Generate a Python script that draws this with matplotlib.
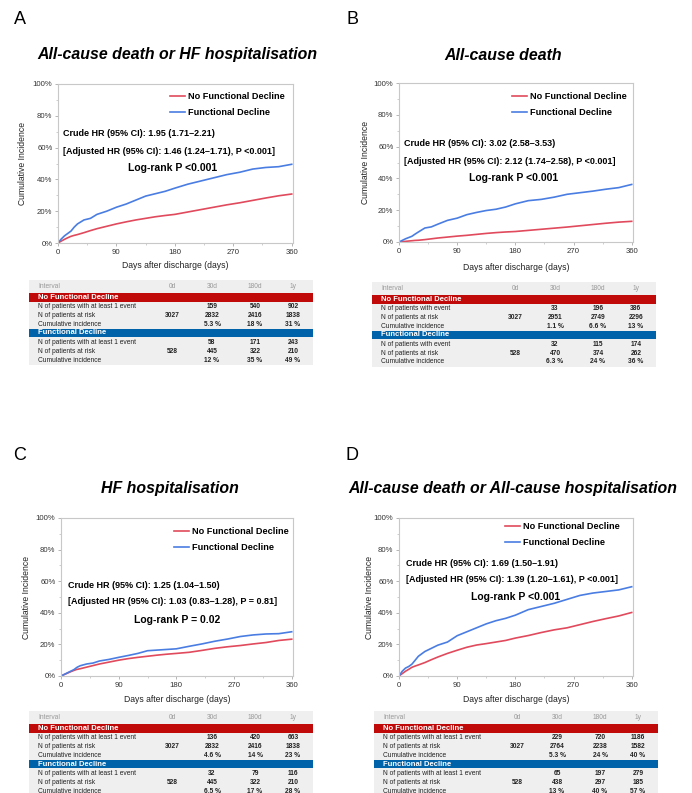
import matplotlib.pyplot as plt
from matplotlib.patches import Rectangle

plt.rcParams['font.family'] = ['Liberation Sans', 'DejaVu Sans']

W, H = 692, 793

days = [0, 5, 10, 15, 20, 25, 30, 40, 50, 60, 75, 90, 105, 120, 135, 150,
        165, 180, 200, 220, 240, 260, 280, 300, 320, 340, 360]

# cumulative incidence (%) - NFD = no functional decline, FD = functional decline
a_nfd = [0, 1.2, 2.3, 3.3, 4.2, 4.8, 5.3, 6.5, 7.8, 9, 10.5, 12, 13.3, 14.5, 15.5, 16.5,
         17.3, 18, 19.5, 21, 22.5, 24, 25.3, 26.8, 28.3, 29.7, 30.8]
a_fd = [0, 2.5, 4.5, 6, 7.5, 10, 12, 14.5, 15.5, 18, 20, 22.5, 24.5, 27, 29.5, 31,
        32.5, 34.5, 37, 39, 41, 43, 44.5, 46.5, 47.5, 48, 49.5]
b_nfd = [0, 0.2, 0.4, 0.6, 0.8, 1.0, 1.1, 1.5, 2.0, 2.5, 3.1, 3.7, 4.2, 4.8, 5.4, 5.9,
         6.3, 6.6, 7.3, 8.0, 8.7, 9.4, 10.2, 11.0, 11.8, 12.5, 13.0]
b_fd = [0, 1, 2, 2.8, 3.6, 5, 6.3, 8.8, 9.5, 11.2, 13.6, 15, 17.2, 18.6, 19.8, 20.6,
        22, 24, 26, 26.8, 28.2, 30, 31, 32, 33.2, 34.2, 36.2]
c_nfd = [0, 0.9, 1.8, 2.7, 3.5, 4.2, 4.6, 5.6, 6.6, 7.6, 8.8, 10, 11, 11.8, 12.5, 13.2,
         13.8, 14.3, 15, 16.2, 17.5, 18.5, 19.3, 20.3, 21.2, 22.5, 23.3]
c_fd = [0, 1, 2, 3, 4, 5.5, 6.5, 7.6, 8.2, 9.5, 10.5, 11.8, 13, 14.3, 16, 16.4,
        16.8, 17.2, 18.8, 20.3, 22, 23.4, 25, 26, 26.6, 26.8, 28]
d_nfd = [0, 1.5, 3, 4.2, 5.5, 6.3, 7, 8.5, 10.3, 12, 14.3, 16.3, 18.2, 19.6, 20.5, 21.5,
         22.5, 24, 25.6, 27.5, 29.2, 30.5, 32.5, 34.5, 36.3, 38, 40.2]
d_fd = [0, 3, 5, 6, 7.5, 10, 12.5, 15.5, 17.5, 19.5, 21.5, 25.5, 28, 30.5, 33, 35,
        36.5, 38.5, 42, 44, 46, 48.5, 51, 52.5, 53.5, 54.5, 56.5]

x_ticks = [0, 90, 180, 270, 360]
y_ticks = [0, 20, 40, 60, 80, 100]

titles = ['All-cause death or HF hospitalisation', 'All-cause death',
          'HF hospitalisation', 'All-cause death or All-cause hospitalisation']
crude = ['Crude HR (95% CI): 1.95 (1.71\u20132.21)',
         'Crude HR (95% CI): 3.02 (2.58\u20133.53)',
         'Crude HR (95% CI): 1.25 (1.04\u20131.50)',
         'Crude HR (95% CI): 1.69 (1.50\u20131.91)']
adjusted = ['[Adjusted HR (95% CI): 1.46 (1.24\u20131.71), P <0.001]',
            '[Adjusted HR (95% CI): 2.12 (1.74\u20132.58), P <0.001]',
            '[Adjusted HR (95% CI): 1.03 (0.83\u20131.28), P = 0.81]',
            '[Adjusted HR (95% CI): 1.39 (1.20\u20131.61), P <0.001]']
logrank = ['Log-rank P <0.001', 'Log-rank P <0.001', 'Log-rank P = 0.02', 'Log-rank P <0.001']

intervals = ['Interval', '0d', '30d', '180d', '1y']
event_labels = ['N of patients with at least 1 event', 'N of patients with event',
                'N of patients with at least 1 event', 'N of patients with at least 1 event']
nfd_events = [['', '159', '540', '902'], ['', '33', '196', '386'],
              ['', '136', '420', '663'], ['', '229', '720', '1186']]
nfd_risk = [['3027', '2832', '2416', '1838'], ['3027', '2951', '2749', '2296'],
            ['3027', '2832', '2416', '1838'], ['3027', '2764', '2238', '1582']]
nfd_ci = [['', '5.3 %', '18 %', '31 %'], ['', '1.1 %', '6.6 %', '13 %'],
          ['', '4.6 %', '14 %', '23 %'], ['', '5.3 %', '24 %', '40 %']]
fd_events = [['', '58', '171', '243'], ['', '32', '115', '174'],
             ['', '32', '79', '116'], ['', '65', '197', '279']]
fd_risk = [['528', '445', '322', '210'], ['528', '470', '374', '262'],
           ['528', '445', '322', '210'], ['528', '438', '297', '185']]
fd_ci = [['', '12 %', '35 %', '49 %'], ['', '6.3 %', '24 %', '36 %'],
         ['', '6.5 %', '17 %', '28 %'], ['', '13 %', '40 %', '57 %']]

RED = '#e04a5c'
BLUE = '#4a7de2'
BAND_RED = '#c00a0a'
BAND_BLUE = '#0062a8'

fig = plt.figure(figsize=(W / 100, H / 100), dpi=100)


def fx(px):
    return px / W


def fy(py):
    return 1 - py / H


# layout in pixels
panels = [
    dict(letter='A', lx=20, ly=20, box=(58, 84, 293, 243), tx=177, ty=55,
         ylx=23, xly=266, leg=(170, 92), crude=(63, 134), adj=151, lr=(173, 168),
         table=(29, 280)),
    dict(letter='B', lx=352, ly=20, box=(399, 83, 633, 242), tx=503, ty=55,
         ylx=366, xly=267, leg=(512, 92), crude=(404, 144), adj=161, lr=(514, 178),
         table=(372, 282)),
    dict(letter='C', lx=20, ly=455, box=(61, 518, 293, 676), tx=170, ty=488,
         ylx=27, xly=700, leg=(174, 527), crude=(68, 586), adj=602, lr=(177, 620),
         table=(29, 711)),
    dict(letter='D', lx=352, ly=455, box=(399, 518, 633, 676), tx=513, ty=488,
         ylx=369, xly=700, leg=(505, 522), crude=(406, 563), adj=579, lr=(516, 597),
         table=(374, 711)),
]
series = [(a_nfd, a_fd), (b_nfd, b_fd), (c_nfd, c_fd), (d_nfd, d_fd)]

for i, p in enumerate(panels):
    l, t, r, b = p['box']
    ax = fig.add_axes([fx(l), fy(b), (r - l) / W, (b - t) / H])
    nfd, fd = series[i]
    ax.plot(days, nfd, color=RED, lw=1.2, label='No Functional Decline')
    ax.plot(days, fd, color=BLUE, lw=1.2, label='Functional Decline')
    ax.set_xlim(0, 362)
    ax.set_ylim(0, 100)
    ax.set_xticks(x_ticks)
    ax.set_xticks(range(45, 360, 90), minor=True)
    ax.set_yticks(y_ticks)
    ax.set_yticks(range(10, 100, 20), minor=True)
    ax.set_yticklabels([f'{v}%' for v in y_ticks])
    ax.tick_params(labelsize=5.6, colors='#aaaaaa', labelcolor='#333333',
                   length=2.5, width=0.6, pad=1.5)
    ax.tick_params(which='minor', length=1.5, width=0.5, colors='#bbbbbb')
    for s in ax.spines.values():
        s.set_color('#c8c8c8')
        s.set_linewidth(0.8)

    lx0, ly0 = p['leg']
    ax.legend(loc='upper left', frameon=False, prop=dict(size=6.6, weight='bold'),
              bbox_to_anchor=((lx0 - l) / (r - l), 1 - (ly0 - t) / (b - t)),
              borderpad=0, borderaxespad=0, handlelength=1.6, handletextpad=0.4,
              labelspacing=0.75)

    fig.text(fx(p['lx']), fy(p['ly']), p['letter'], fontsize=13, ha='center', va='center')
    fig.text(fx(p['tx']), fy(p['ty']), titles[i], fontsize=11.4, weight='bold',
             style='italic', ha='center', va='center')
    fig.text(fx(p['ylx']), fy((t + b) / 2), 'Cumulative Incidence', fontsize=6.2,
             rotation=90, ha='center', va='center', color='#222222')
    fig.text(fx((l + r) / 2), fy(p['xly']), 'Days after discharge (days)', fontsize=6.2,
             ha='center', va='center', color='#222222')
    cx, cy = p['crude']
    fig.text(fx(cx), fy(cy), crude[i], fontsize=6.5, weight='bold', va='center')
    fig.text(fx(cx), fy(p['adj']), adjusted[i], fontsize=6.5, weight='bold', va='center')
    fig.text(fx(p['lr'][0]), fy(p['lr'][1]), logrank[i], fontsize=7.5, weight='bold',
             ha='center', va='center')

    # risk table
    tx0, ty0 = p['table']
    tw, th = 284, 85
    tab = fig.add_axes([fx(tx0), fy(ty0 + th), tw / W, th / H])
    tab.set_xlim(0, tw)
    tab.set_ylim(th, 0)
    tab.axis('off')
    tab.add_patch(Rectangle((0, 0), tw, th, color='#efefef', lw=0))
    tab.add_patch(Rectangle((0, 12.8), tw, 9.2, color=BAND_RED, lw=0))
    tab.add_patch(Rectangle((0, 48.6), tw, 8.8, color=BAND_BLUE, lw=0))
    col_x = [9, 143, 183, 226, 264]
    for j, name in enumerate(intervals):
        tab.text(col_x[j], 6.5, name, fontsize=4.8, color='#999999',
                 ha='left' if j == 0 else 'center', va='center')
    tab.text(col_x[0], 17.4, 'No Functional Decline', fontsize=5.5, weight='bold',
             color='white', va='center')
    tab.text(col_x[0], 53.0, 'Functional Decline', fontsize=5.5, weight='bold',
             color='white', va='center')
    rows = [(26.5, event_labels[i], nfd_events[i]),
            (35.5, 'N of patients at risk', nfd_risk[i]),
            (44.2, 'Cumulative incidence', nfd_ci[i]),
            (62.5, event_labels[i], fd_events[i]),
            (71.5, 'N of patients at risk', fd_risk[i]),
            (80.0, 'Cumulative incidence', fd_ci[i])]
    for yy, lab, vals in rows:
        tab.text(col_x[0], yy, lab, fontsize=4.8, color='#222222', va='center')
        for j, v in enumerate(vals):
            tab.text(col_x[j + 1], yy, v, fontsize=4.8, weight='bold', color='#222222',
                     ha='center', va='center')

fig.savefig('out.png', dpi=100)
